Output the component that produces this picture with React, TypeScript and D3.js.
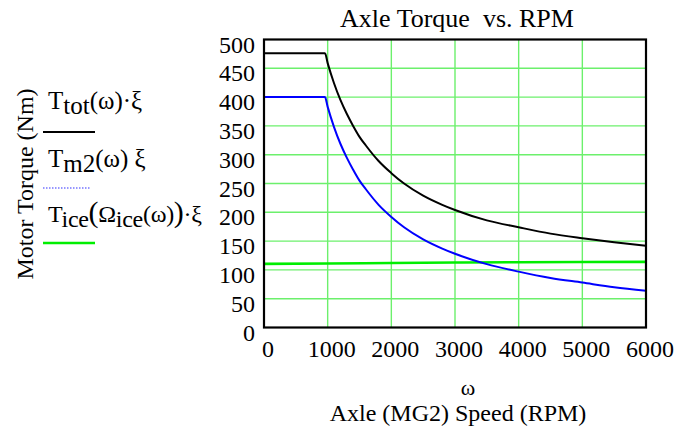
import React from 'react';
import * as d3 from 'd3';

// axle speed (rpm) samples and torque curves
const rpm = [0, 500, 958, 1000, 1100, 1200, 1300, 1400, 1500, 1600, 1800, 2000, 2200, 2500, 2800, 3000, 3500, 4000, 4500, 5000, 5500, 6000];
const tTot = [476, 476, 476, 459, 424, 395, 371, 350, 331, 316, 289, 268, 250, 229, 213, 204, 186, 174, 163, 155, 148, 142];
const tM2 = [400, 400, 400, 383, 348, 319, 295, 274, 255, 240, 213, 192, 174, 153, 137, 128, 110, 97, 86, 78, 70, 64];
const iceRpm = [0, 1000, 2000, 3000, 4000, 5000, 6000];
const tIce = [110.5, 111, 112, 112.8, 113.4, 113.8, 114];

const xTicks = [0, 1000, 2000, 3000, 4000, 5000, 6000];
const yTicks = [0, 50, 100, 150, 200, 250, 300, 350, 400, 450, 500];

const W = 689;
const H = 429;
const FONT = '"Liberation Serif", "Times New Roman", serif';

export default function App() {
  const x = d3.scaleLinear().domain([0, 6000]).range([264, 646]);
  const y = d3.scaleLinear().domain([0, 500]).range([327.5, 39.5]);

  const line = d3.line<[number, number]>()
    .x(d => x(d[0]))
    .y(d => y(d[1]))
    .curve(d3.curveMonotoneX);

  const totPath = line(rpm.map((r, i) => [r, tTot[i]]));
  const m2Path = line(rpm.map((r, i) => [r, tM2[i]]));
  const icePath = line(iceRpm.map((r, i) => [r, tIce[i]]));

  const grid = '#6cf06c';

  return (
    <svg width={W} height={H} style={{ position: 'absolute', left: 0, top: 0, background: 'white' }}
      fontFamily={FONT}>
      {/* grid */}
      {xTicks.slice(1, -1).map(t => (
        <line key={'gx' + t} x1={x(t)} x2={x(t)} y1={y(500)} y2={y(0)} stroke={grid} strokeWidth={1.4} />
      ))}
      {yTicks.slice(1, -1).map(t => (
        <line key={'gy' + t} x1={x(0)} x2={x(6000)} y1={y(t)} y2={y(t)} stroke={grid} strokeWidth={1.4} />
      ))}

      {/* curves */}
      <path d={icePath || ''} fill="none" stroke="#00ee00" strokeWidth={2.6} />
      <path d={m2Path || ''} fill="none" stroke="#0000ff" strokeWidth={2} />
      <path d={totPath || ''} fill="none" stroke="#000" strokeWidth={2} />

      {/* frame */}
      <rect x={x(0)} y={y(500)} width={x(6000) - x(0)} height={y(0) - y(500)} fill="none" stroke="#000" strokeWidth={2.2} />

      {/* tick labels */}
      {yTicks.map(t => (
        <text key={'ly' + t} x={255} y={y(t) + 13} textAnchor="end" fontSize={24}>{t}</text>
      ))}
      {xTicks.map(t => (
        <text key={'lx' + t} x={x(t) + 4} y={357} textAnchor="middle" fontSize={24}>{t}</text>
      ))}

      {/* titles */}
      <text x={457} y={27} textAnchor="middle" fontSize={26} style={{ whiteSpace: 'pre' }}>Axle Torque  vs. RPM</text>
      <text x={468} y={395} textAnchor="middle" fontSize={22}>ω</text>
      <text x={458} y={421} textAnchor="middle" fontSize={24}>Axle (MG2) Speed (RPM)</text>
      <text transform="translate(33,184) rotate(-90)" textAnchor="middle" fontSize={24}>Motor Torque (Nm)</text>

      {/* legend */}
      <text x={48} y={109} fontSize={25}>
        T<tspan dy={5}>tot</tspan><tspan dy={-5}>(ω)·ξ</tspan>
      </text>
      <line x1={43} x2={95} y1={132} y2={132} stroke="#000" strokeWidth={2} />

      <text x={48} y={167} fontSize={25}>
        T<tspan dy={5}>m2</tspan><tspan dy={-5}>(ω) ξ</tspan>
      </text>
      <line x1={43} x2={91} y1={188} y2={188} stroke="#3030ff" strokeWidth={1.2} strokeDasharray="1.5,1.5" />

      <text x={48} y={222} fontSize={24} letterSpacing={-0.3}>
        T<tspan dy={5}>ice</tspan><tspan dy={-5} fontSize={30}>(</tspan>Ω<tspan dy={5}>ice</tspan><tspan dy={-5}>(ω)</tspan><tspan fontSize={30}>)</tspan>·ξ
      </text>
      <line x1={43} x2={95} y1={243} y2={243} stroke="#00ee00" strokeWidth={2.4} />
    </svg>
  );
}
